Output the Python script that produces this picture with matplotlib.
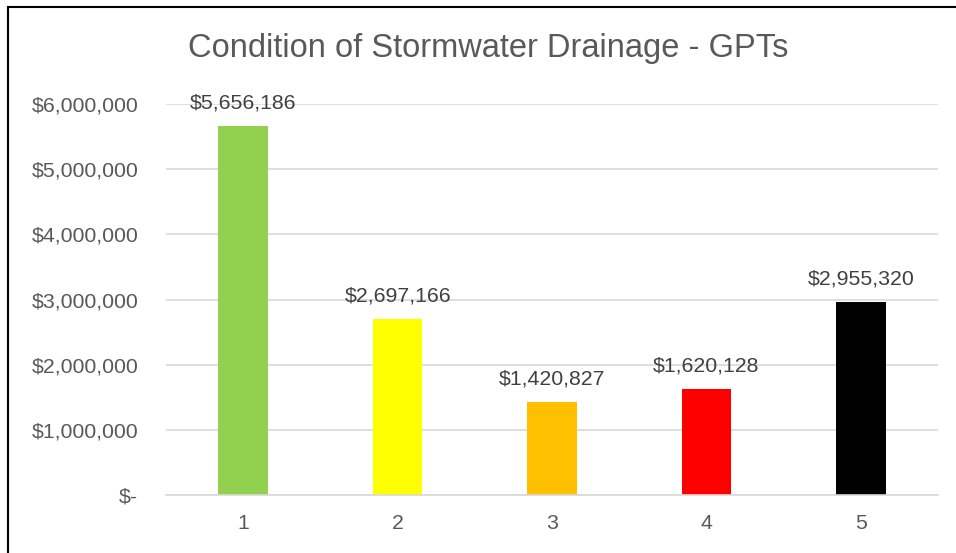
import matplotlib
matplotlib.use("Agg")
import matplotlib.pyplot as plt
from matplotlib.lines import Line2D
from matplotlib.ticker import FuncFormatter

categories = ["1", "2", "3", "4", "5"]
values = [5656186, 2697166, 1420827, 1620128, 2955320]
colors = ["#92D050", "#FFFF00", "#FFC000", "#FF0000", "#000000"]
yticks = [0, 1000000, 2000000, 3000000, 4000000, 5000000, 6000000]
title = "Condition of Stormwater Drainage - GPTs"

plt.rcParams['font.family'] = ['Liberation Sans', 'DejaVu Sans']

W, H = 956, 553
fig = plt.figure(figsize=(W / 100, H / 100), dpi=100)
ax = fig.add_axes([166 / W, 1 - 495 / H, (938 - 166) / W, (495 - 104) / H])

x = list(range(1, len(categories) + 1))
ax.bar(x, values, width=0.32, color=colors, zorder=3)

for xi, v in zip(x, values):
    ax.annotate(f"${v:,.0f}", (xi, v), xytext=(0, 10), textcoords="offset points",
                ha="center", va="bottom", fontsize=15.3, color="#404040")

ax.set_xlim(0.5, len(categories) + 0.5)
ax.set_ylim(0, 6000000)
ax.set_yticks(yticks)
ax.yaxis.set_major_formatter(FuncFormatter(lambda v, p: "$-" if v == 0 else f"${v:,.0f}"))
ax.set_xticks(x)
ax.set_xticklabels(categories)
ax.grid(axis="y", color="#d9d9d9", linewidth=1.2, zorder=0)
for s in ["top", "right", "left"]:
    ax.spines[s].set_visible(False)
ax.spines["bottom"].set_color("#d9d9d9")
ax.spines["bottom"].set_linewidth(1.2)
ax.spines["bottom"].set_zorder(4)
ax.tick_params(axis="both", length=0, labelsize=15.3, labelcolor="#595959")
ax.tick_params(axis="y", pad=20)
ax.tick_params(axis="x", pad=14)

fig.text(488 / W, 1 - 48 / H, title, ha="center", va="center", fontsize=23.5, color="#595959")

# border of the chart area (left and top edges visible)
fig.add_artist(Line2D([7.5 / W, 7.5 / W], [0, 1 - 6.5 / H], color="black", linewidth=1.5, transform=fig.transFigure))
fig.add_artist(Line2D([7.5 / W, 1], [1 - 6.5 / H, 1 - 6.5 / H], color="black", linewidth=1.5, transform=fig.transFigure))

fig.savefig("out.png", dpi=100, facecolor="white")
